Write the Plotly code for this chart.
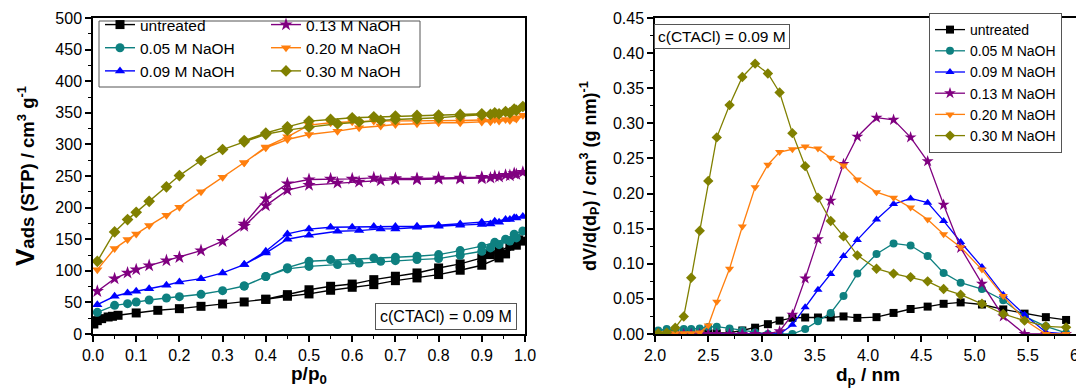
import plotly.graph_objects as go

# ---------------- data: left panel (N2 isotherms) ----------------
P_ADS_UNTREATED = [0.002, 0.01, 0.02, 0.035, 0.045, 0.058, 0.10, 0.15, 0.20, 0.25, 0.30, 0.35, 0.40,
                   0.45, 0.50, 0.55, 0.60, 0.65, 0.70, 0.75, 0.80, 0.85, 0.90, 0.94, 0.955, 0.98, 0.995]
V_ADS_UNTREATED = [15.8, 21.1, 24.3, 26.9, 28.0, 29.6, 33.3, 37.5, 40.1, 43.8, 47.5, 50.7, 54.9,
                   59.7, 63.4, 69.2, 73.9, 78.1, 84.4, 88.7, 94.0, 100.9, 108.8, 120.4, 126.7, 140.5, 147.0]
P_DES_UNTREATED = [0.985, 0.965, 0.94, 0.92, 0.90, 0.85, 0.80, 0.75, 0.70, 0.65, 0.60, 0.55, 0.50, 0.45, 0.40]
V_DES_UNTREATED = [149.0, 138.9, 131.0, 125.6, 120.4, 110.9, 104.5, 96.6, 91.4, 86.0, 79.0, 75.5, 70.0, 62.3, 54.9]

P_ADS = [0.01, 0.05, 0.08, 0.10, 0.13, 0.17, 0.20, 0.25, 0.30, 0.35, 0.40, 0.45, 0.50,
         0.566, 0.616, 0.666, 0.70, 0.75, 0.80, 0.85, 0.90, 0.92, 0.94, 0.965, 0.98, 0.995]
P_DES = [0.975, 0.955, 0.93, 0.90, 0.85, 0.80, 0.75, 0.70, 0.65, 0.60, 0.55, 0.50, 0.45, 0.40, 0.35]

V_ADS_005 = [34.3, 45.4, 48.0, 50.7, 53.8, 57.0, 59.1, 62.8, 68.6, 76.0, 90.8, 103.0, 107.0,
             110.0, 112.4, 115.0, 116.0, 117.7, 119.3, 124.6, 131.0, 136.2, 141.4, 147.0, 152.0, 163.0]
V_DES_005 = [158.0, 150.0, 145.0, 139.0, 132.0, 125.6, 123.0, 121.4, 120.4, 119.3, 117.7, 115.0, 105.0, 91.0, 76.0]

V_ADS_009 = [46.4, 59.7, 64.9, 67.6, 71.7, 77.1, 82.4, 87.6, 96.6, 109.8, 128.0, 150.0, 156.3,
             162.6, 163.6, 166.3, 166.3, 169.0, 170.6, 172.2, 173.3, 174.2, 176.9, 181.0, 183.7, 186.0]
V_DES_009 = [184.0, 181.0, 178.5, 176.9, 174.2, 172.2, 170.6, 170.0, 170.0, 169.0, 169.0, 166.0, 158.4, 131.0, 110.0]

V_ADS_013 = [67.6, 87.6, 96.6, 101.8, 108.2, 116.1, 121.4, 132.0, 146.8, 170.6, 203.2, 227.6, 235.5,
             239.1, 240.7, 242.8, 244.4, 244.4, 245.0, 245.5, 246.0, 247.0, 248.5, 250.8, 252.5, 256.0]
V_DES_013 = [254.0, 251.3, 249.8, 248.2, 247.1, 247.1, 246.0, 246.0, 247.1, 245.5, 245.5, 244.4, 238.0, 214.3, 174.2]

V_ADS_020 = [101.8, 135.1, 149.4, 158.4, 171.5, 188.0, 200.7, 224.9, 248.2, 270.8, 294.6, 307.7, 315.7,
             321.0, 326.3, 329.0, 331.5, 332.6, 334.2, 334.2, 335.3, 336.0, 336.9, 338.0, 340.0, 346.0]
V_DES_020 = [342.0, 339.5, 339.5, 338.5, 337.9, 337.9, 337.9, 336.9, 336.9, 335.8, 334.2, 330.5, 312.0, 296.0, 271.0]

V_ADS_030 = [115.0, 161.5, 181.0, 192.6, 210.0, 232.8, 250.7, 274.5, 291.9, 304.0, 316.0, 322.5, 327.4,
             332.6, 335.8, 337.9, 339.5, 340.5, 342.1, 344.8, 346.4, 347.4, 348.4, 350.0, 353.7, 360.0]
V_DES_030 = [356.0, 352.0, 350.0, 348.4, 347.4, 346.4, 345.8, 344.8, 343.7, 342.1, 339.5, 336.9, 327.8, 318.0, 306.0]

# ---------------- data: right panel (pore size distributions) ----------------
D_P = [2.03, 2.11, 2.19, 2.27, 2.34, 2.42, 2.50, 2.58, 2.70, 2.82, 2.94, 3.06, 3.17, 3.29, 3.41,
       3.53, 3.65, 3.77, 3.90, 4.08, 4.24, 4.40, 4.56, 4.71, 4.87, 5.07, 5.27, 5.47, 5.67, 5.86]
PSD_UNTREATED = [0.001, 0.001, 0.001, 0.001, 0.001, 0.001, 0.001, 0.001, 0.002, 0.005, 0.009, 0.014, 0.019, 0.023, 0.0235,
                 0.0235, 0.0235, 0.025, 0.023, 0.024, 0.030, 0.0356, 0.039, 0.043, 0.045, 0.042, 0.035, 0.029, 0.024, 0.020]
PSD_005 = [0.005, 0.007, 0.007, 0.007, 0.007, 0.008, 0.010, 0.0105, 0.008, 0.005, 0.002, 0.0, 0.0, 0.0, 0.007,
           0.018, 0.030, 0.054, 0.086, 0.114, 0.129, 0.126, 0.111, 0.087, 0.073, 0.064, 0.048, 0.025, 0.011, 0.0015]
PSD_009 = [0.002, 0.0, 0.0, 0.0, 0.0, 0.0, 0.0, 0.0, 0.0, 0.0, 0.0, 0.0, 0.0, 0.013, 0.038,
           0.063, 0.0855, 0.111, 0.134, 0.163, 0.185, 0.193, 0.187, 0.161, 0.131, 0.0955, 0.056, 0.0275, 0.0025, 0.0]
PSD_013 = [0.0, 0.0, 0.0, 0.0, 0.0, 0.0, 0.0, 0.0, 0.0, 0.0, 0.0, 0.0, 0.004, 0.0275, 0.079,
           0.135, 0.190, 0.242, 0.281, 0.308, 0.305, 0.280, 0.246, 0.184, 0.1226, 0.0717, 0.025, 0.0, 0.0, 0.0]
PSD_020 = [0.001, 0.001, 0.001, 0.001, 0.001, 0.002, 0.012, 0.046, 0.093, 0.153, 0.209, 0.241, 0.259, 0.263, 0.267,
           0.264, 0.251, 0.240, 0.220, 0.202, 0.194, 0.180, 0.163, 0.142, 0.1235, 0.0917, 0.054, 0.020, 0.0, 0.0]
PSD_030 = [0.001, 0.002, 0.009, 0.025, 0.080, 0.147, 0.218, 0.280, 0.326, 0.366, 0.385, 0.371, 0.344, 0.286, 0.239,
           0.194, 0.161, 0.139, 0.112, 0.093, 0.086, 0.081, 0.075, 0.064, 0.056, 0.043, 0.0285, 0.019, 0.011, 0.0095]

LABELS = ["untreated", "0.05 M NaOH", "0.09 M NaOH", "0.13 M NaOH", "0.20 M NaOH", "0.30 M NaOH"]
COLORS = ["#000000", "#0E8080", "#0000FF", "#800080", "#FF7F0E", "#808000"]
SYMBOLS = ["square", "circle", "triangle-up", "star", "triangle-down", "diamond"]
ANNOT = "c(CTACl) = 0.09 M"
X1_TITLE = "<b>p/p<sub>0</sub></b>"
Y1_TITLE = "<b><span style='font-size:26px'>V</span>ads (STP) / cm<sup>3</sup> g<sup>-1</sup></b>"
X2_TITLE = "<b>d<sub>p</sub> / nm</b>"
Y2_TITLE = "<b>dV/d(d<sub>P</sub>) / cm<sup>3</sup> (g nm)<sup>-1</sup></b>"

FONT = "Liberation Sans, Arial, sans-serif"

iso = [
    (P_ADS_UNTREATED, V_ADS_UNTREATED, P_DES_UNTREATED, V_DES_UNTREATED),
    (P_ADS, V_ADS_005, P_DES, V_DES_005),
    (P_ADS, V_ADS_009, P_DES, V_DES_009),
    (P_ADS, V_ADS_013, P_DES, V_DES_013),
    (P_ADS, V_ADS_020, P_DES, V_DES_020),
    (P_ADS, V_ADS_030, P_DES, V_DES_030),
]
psd = [PSD_UNTREATED, PSD_005, PSD_009, PSD_013, PSD_020, PSD_030]

fig = go.Figure()

for i in range(6):
    pa, va, pd, vd = iso[i]
    legend_name = "legend" if i < 3 else "legend2"
    fig.add_trace(go.Scatter(
        x=list(pa) + list(pd), y=list(va) + list(vd),
        mode="lines+markers", name=LABELS[i],
        line=dict(color=COLORS[i], width=1.4),
        marker=dict(symbol=SYMBOLS[i], size=9 if SYMBOLS[i] != "star" else 10, color=COLORS[i]),
        xaxis="x", yaxis="y", legend=legend_name, showlegend=True,
    ))

for i in range(6):
    fig.add_trace(go.Scatter(
        x=D_P, y=psd[i],
        mode="lines+markers", name=LABELS[i],
        line=dict(color=COLORS[i], width=1.3),
        marker=dict(symbol=SYMBOLS[i], size=8 if SYMBOLS[i] != "star" else 9, color=COLORS[i]),
        xaxis="x2", yaxis="y2", legend="legend3", showlegend=True,
    ))

W, H = 1084, 392
L, R, T, B = 85, 11, 10, 66
pw = W - L - R
ph = H - T - B
x1_end = (517 - L) / pw
x2_start = (647 - L) / pw


def px(xp):
    return (xp - L) / pw


def py(yp):
    return (H - B - yp) / ph


axis_common = dict(
    showline=True, linecolor="black", linewidth=1.5, mirror=True,
    ticks="outside", ticklen=6, tickwidth=1.5, tickcolor="black",
    showgrid=False, zeroline=False, automargin=False, tickangle=0,
    ticklabeloverflow="allow",
    tickfont=dict(family=FONT, size=16, color="black"),
)
minor_common = dict(ticks="outside", ticklen=3, tickwidth=1.2, tickcolor="black")

fig.update_layout(
    width=W, height=H,
    margin=dict(l=L, r=R, t=T, b=B, autoexpand=False),
    plot_bgcolor="white", paper_bgcolor="white",
    font=dict(family=FONT, size=14, color="black"),
    xaxis=dict(domain=[0, x1_end], range=[0, 1.0], dtick=0.1, tickformat=".1f",
               minor=dict(dtick=0.05, **minor_common), anchor="y", **axis_common),
    yaxis=dict(domain=[0, 1], range=[0, 500], dtick=50,
               minor=dict(dtick=25, **minor_common), anchor="x", **axis_common),
    xaxis2=dict(domain=[x2_start, 1], range=[2.0, 6.0], dtick=0.5, tickformat=".1f",
                minor=dict(dtick=0.25, **minor_common), anchor="y2", **axis_common),
    yaxis2=dict(domain=[0, 1], range=[0, 0.45], dtick=0.05, tickformat=".2f",
                minor=dict(dtick=0.025, **minor_common), anchor="x2", **axis_common),
    legend=dict(xref="container", yref="container", x=92 / W, y=1.0,
                xanchor="left", yanchor="top", bgcolor="rgba(0,0,0,0)", borderwidth=0,
                font=dict(family=FONT, size=15.5, color="black"), tracegroupgap=0),
    legend2=dict(xref="container", yref="container", x=258 / W, y=1.0,
                 xanchor="left", yanchor="top", bgcolor="rgba(0,0,0,0)", borderwidth=0,
                 font=dict(family=FONT, size=15.5, color="black"), tracegroupgap=0),
    legend3=dict(xref="container", yref="container", x=921 / W, y=1 - 5 / H,
                 xanchor="left", yanchor="top", bgcolor="white", bordercolor="#555555",
                 borderwidth=1, font=dict(family=FONT, size=14, color="black"), tracegroupgap=0),
    shapes=[
        dict(type="rect", xref="paper", yref="paper",
             x0=px(91), x1=px(412), y0=py(79), y1=py(13),
             line=dict(color="#555555", width=1), layer="above"),
    ],
    annotations=[
        dict(text=ANNOT, xref="paper", yref="paper", x=px(438), y=py(308),
             xanchor="center", yanchor="middle",
             showarrow=False, font=dict(family=FONT, size=16, color="black"),
             bordercolor="#555555", borderwidth=1, borderpad=4, bgcolor="white"),
        dict(text=ANNOT, xref="paper", yref="paper", x=px(714), y=py(29),
             xanchor="center", yanchor="middle",
             showarrow=False, font=dict(family=FONT, size=15.5, color="black"),
             bordercolor="#555555", borderwidth=1, borderpad=3, bgcolor="white"),
        dict(text=X1_TITLE, xref="paper", yref="paper", x=px(301), y=py(367),
             xanchor="center", yanchor="middle", showarrow=False,
             font=dict(family=FONT, size=19, color="black")),
        dict(text=X2_TITLE, xref="paper", yref="paper", x=px(860), y=py(368),
             xanchor="center", yanchor="middle", showarrow=False,
             font=dict(family=FONT, size=19, color="black")),
        dict(text=Y1_TITLE, xref="paper", yref="paper", x=px(17), y=py(168),
             xanchor="center", yanchor="middle", textangle=-90, showarrow=False,
             font=dict(family=FONT, size=18.5, color="black")),
        dict(text=Y2_TITLE, xref="paper", yref="paper", x=px(581), y=py(168),
             xanchor="center", yanchor="middle", textangle=-90, showarrow=False,
             font=dict(family=FONT, size=18, color="black")),
    ],
)

fig.write_html("out.html")
